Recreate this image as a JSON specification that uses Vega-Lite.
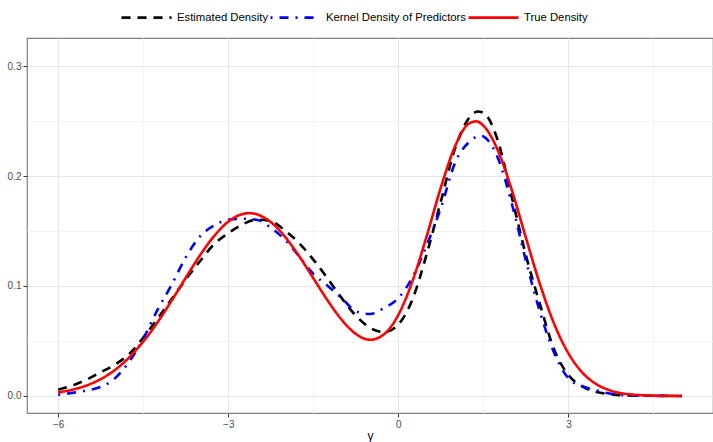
{
  "$schema": "https://vega.github.io/schema/vega-lite/v6.json",
  "width": 686,
  "height": 375,
  "autosize": {"type": "none"},
  "padding": {"left": 27, "top": 38, "right": 0, "bottom": 29},
  "background": "white",
  "config": {
    "font": "Liberation Sans",
    "view": {"stroke": "#808080", "strokeWidth": 1.2}
  },
  "datasets": {
    "curves": [
      {"x": -6, "y": 0.0057, "s": "Estimated Density"},
      {"x": -5.75, "y": 0.0095, "s": "Estimated Density"},
      {"x": -5.5, "y": 0.0148, "s": "Estimated Density"},
      {"x": -5.25, "y": 0.0215, "s": "Estimated Density"},
      {"x": -5, "y": 0.0285, "s": "Estimated Density"},
      {"x": -4.75, "y": 0.038, "s": "Estimated Density"},
      {"x": -4.5, "y": 0.053, "s": "Estimated Density"},
      {"x": -4.25, "y": 0.07, "s": "Estimated Density"},
      {"x": -4, "y": 0.088, "s": "Estimated Density"},
      {"x": -3.75, "y": 0.106, "s": "Estimated Density"},
      {"x": -3.5, "y": 0.1225, "s": "Estimated Density"},
      {"x": -3.25, "y": 0.138, "s": "Estimated Density"},
      {"x": -3, "y": 0.148, "s": "Estimated Density"},
      {"x": -2.75, "y": 0.156, "s": "Estimated Density"},
      {"x": -2.5, "y": 0.1603, "s": "Estimated Density"},
      {"x": -2.25, "y": 0.159, "s": "Estimated Density"},
      {"x": -2, "y": 0.1505, "s": "Estimated Density"},
      {"x": -1.75, "y": 0.139, "s": "Estimated Density"},
      {"x": -1.5, "y": 0.124, "s": "Estimated Density"},
      {"x": -1.25, "y": 0.107, "s": "Estimated Density"},
      {"x": -1, "y": 0.089, "s": "Estimated Density"},
      {"x": -0.75, "y": 0.073, "s": "Estimated Density"},
      {"x": -0.5, "y": 0.062, "s": "Estimated Density"},
      {"x": -0.25, "y": 0.058, "s": "Estimated Density"},
      {"x": 0, "y": 0.065, "s": "Estimated Density"},
      {"x": 0.25, "y": 0.088, "s": "Estimated Density"},
      {"x": 0.5, "y": 0.129, "s": "Estimated Density"},
      {"x": 0.75, "y": 0.177, "s": "Estimated Density"},
      {"x": 1, "y": 0.225, "s": "Estimated Density"},
      {"x": 1.25, "y": 0.253, "s": "Estimated Density"},
      {"x": 1.4, "y": 0.2586, "s": "Estimated Density"},
      {"x": 1.5, "y": 0.2575, "s": "Estimated Density"},
      {"x": 1.75, "y": 0.233, "s": "Estimated Density"},
      {"x": 2, "y": 0.181, "s": "Estimated Density"},
      {"x": 2.25, "y": 0.128, "s": "Estimated Density"},
      {"x": 2.5, "y": 0.083, "s": "Estimated Density"},
      {"x": 2.75, "y": 0.042, "s": "Estimated Density"},
      {"x": 3, "y": 0.019, "s": "Estimated Density"},
      {"x": 3.25, "y": 0.0085, "s": "Estimated Density"},
      {"x": 3.5, "y": 0.0035, "s": "Estimated Density"},
      {"x": 3.75, "y": 0.0015, "s": "Estimated Density"},
      {"x": 4, "y": 0.0004, "s": "Estimated Density"},
      {"x": 4.5, "y": 0.0001, "s": "Estimated Density"},
      {"x": 5, "y": 0, "s": "Estimated Density"},

      {"x": -6, "y": 0.0012, "s": "Kernel Density of Predictors"},
      {"x": -5.75, "y": 0.0028, "s": "Kernel Density of Predictors"},
      {"x": -5.5, "y": 0.005, "s": "Kernel Density of Predictors"},
      {"x": -5.25, "y": 0.0082, "s": "Kernel Density of Predictors"},
      {"x": -5, "y": 0.016, "s": "Kernel Density of Predictors"},
      {"x": -4.75, "y": 0.031, "s": "Kernel Density of Predictors"},
      {"x": -4.5, "y": 0.052, "s": "Kernel Density of Predictors"},
      {"x": -4.25, "y": 0.078, "s": "Kernel Density of Predictors"},
      {"x": -4, "y": 0.101, "s": "Kernel Density of Predictors"},
      {"x": -3.75, "y": 0.126, "s": "Kernel Density of Predictors"},
      {"x": -3.5, "y": 0.145, "s": "Kernel Density of Predictors"},
      {"x": -3.25, "y": 0.155, "s": "Kernel Density of Predictors"},
      {"x": -3, "y": 0.1603, "s": "Kernel Density of Predictors"},
      {"x": -2.75, "y": 0.1612, "s": "Kernel Density of Predictors"},
      {"x": -2.5, "y": 0.1603, "s": "Kernel Density of Predictors"},
      {"x": -2.25, "y": 0.153, "s": "Kernel Density of Predictors"},
      {"x": -2, "y": 0.142, "s": "Kernel Density of Predictors"},
      {"x": -1.75, "y": 0.127, "s": "Kernel Density of Predictors"},
      {"x": -1.5, "y": 0.111, "s": "Kernel Density of Predictors"},
      {"x": -1.25, "y": 0.1003, "s": "Kernel Density of Predictors"},
      {"x": -1, "y": 0.089, "s": "Kernel Density of Predictors"},
      {"x": -0.75, "y": 0.077, "s": "Kernel Density of Predictors"},
      {"x": -0.5, "y": 0.0745, "s": "Kernel Density of Predictors"},
      {"x": -0.25, "y": 0.08, "s": "Kernel Density of Predictors"},
      {"x": 0, "y": 0.089, "s": "Kernel Density of Predictors"},
      {"x": 0.25, "y": 0.108, "s": "Kernel Density of Predictors"},
      {"x": 0.5, "y": 0.137, "s": "Kernel Density of Predictors"},
      {"x": 0.75, "y": 0.171, "s": "Kernel Density of Predictors"},
      {"x": 1, "y": 0.212, "s": "Kernel Density of Predictors"},
      {"x": 1.25, "y": 0.231, "s": "Kernel Density of Predictors"},
      {"x": 1.45, "y": 0.2365, "s": "Kernel Density of Predictors"},
      {"x": 1.75, "y": 0.217, "s": "Kernel Density of Predictors"},
      {"x": 2, "y": 0.175, "s": "Kernel Density of Predictors"},
      {"x": 2.25, "y": 0.123, "s": "Kernel Density of Predictors"},
      {"x": 2.5, "y": 0.076, "s": "Kernel Density of Predictors"},
      {"x": 2.75, "y": 0.039, "s": "Kernel Density of Predictors"},
      {"x": 3, "y": 0.016, "s": "Kernel Density of Predictors"},
      {"x": 3.25, "y": 0.0088, "s": "Kernel Density of Predictors"},
      {"x": 3.5, "y": 0.005, "s": "Kernel Density of Predictors"},
      {"x": 3.75, "y": 0.002, "s": "Kernel Density of Predictors"},
      {"x": 4, "y": 0.0007, "s": "Kernel Density of Predictors"},
      {"x": 4.5, "y": 0.0001, "s": "Kernel Density of Predictors"},
      {"x": 5, "y": 0, "s": "Kernel Density of Predictors"},

      {"x": -6, "y": 0.0032, "s": "True Density"},
      {"x": -5.75, "y": 0.0057, "s": "True Density"},
      {"x": -5.5, "y": 0.0095, "s": "True Density"},
      {"x": -5.25, "y": 0.0153, "s": "True Density"},
      {"x": -5, "y": 0.0236, "s": "True Density"},
      {"x": -4.75, "y": 0.0349, "s": "True Density"},
      {"x": -4.5, "y": 0.0494, "s": "True Density"},
      {"x": -4.25, "y": 0.0668, "s": "True Density"},
      {"x": -4, "y": 0.0866, "s": "True Density"},
      {"x": -3.75, "y": 0.1075, "s": "True Density"},
      {"x": -3.5, "y": 0.1278, "s": "True Density"},
      {"x": -3.25, "y": 0.1454, "s": "True Density"},
      {"x": -3, "y": 0.1585, "s": "True Density"},
      {"x": -2.75, "y": 0.1654, "s": "True Density"},
      {"x": -2.625, "y": 0.1662, "s": "True Density"},
      {"x": -2.5, "y": 0.1652, "s": "True Density"},
      {"x": -2.25, "y": 0.1581, "s": "True Density"},
      {"x": -2, "y": 0.1448, "s": "True Density"},
      {"x": -1.75, "y": 0.1271, "s": "True Density"},
      {"x": -1.5, "y": 0.1071, "s": "True Density"},
      {"x": -1.25, "y": 0.087, "s": "True Density"},
      {"x": -1, "y": 0.0693, "s": "True Density"},
      {"x": -0.75, "y": 0.0564, "s": "True Density"},
      {"x": -0.5, "y": 0.0511, "s": "True Density"},
      {"x": -0.25, "y": 0.0562, "s": "True Density"},
      {"x": 0, "y": 0.0738, "s": "True Density"},
      {"x": 0.25, "y": 0.1045, "s": "True Density"},
      {"x": 0.5, "y": 0.1454, "s": "True Density"},
      {"x": 0.75, "y": 0.1896, "s": "True Density"},
      {"x": 1, "y": 0.227, "s": "True Density"},
      {"x": 1.25, "y": 0.2479, "s": "True Density"},
      {"x": 1.375, "y": 0.2497, "s": "True Density"},
      {"x": 1.5, "y": 0.2458, "s": "True Density"},
      {"x": 1.75, "y": 0.2239, "s": "True Density"},
      {"x": 2, "y": 0.1874, "s": "True Density"},
      {"x": 2.25, "y": 0.1438, "s": "True Density"},
      {"x": 2.5, "y": 0.1012, "s": "True Density"},
      {"x": 2.75, "y": 0.0653, "s": "True Density"},
      {"x": 3, "y": 0.0387, "s": "True Density"},
      {"x": 3.25, "y": 0.021, "s": "True Density"},
      {"x": 3.5, "y": 0.0105, "s": "True Density"},
      {"x": 3.75, "y": 0.0048, "s": "True Density"},
      {"x": 4, "y": 0.002, "s": "True Density"},
      {"x": 4.25, "y": 0.0008, "s": "True Density"},
      {"x": 4.5, "y": 0.0003, "s": "True Density"},
      {"x": 4.75, "y": 0.0001, "s": "True Density"},
      {"x": 5, "y": 0, "s": "True Density"}
    ]
  },
  "data": {"name": "curves"},
  "mark": {"type": "line", "strokeWidth": 2.6, "interpolate": "monotone", "strokeCap": "butt", "clip": true},
  "encoding": {
    "x": {
      "field": "x",
      "type": "quantitative",
      "scale": {"domain": [-6.55, 5.55], "nice": false, "zero": false},
      "axis": {
        "title": "γ",
        "titleFontSize": 12,
        "titleFontWeight": "normal",
        "titleColor": "#000000",
        "titlePadding": 1,
        "values": [-6, -4.5, -3, -1.5, 0, 1.5, 3, 4.5],
        "labelExpr": "datum.value % 3 === 0 ? format(datum.value, 'd') : ''",
        "labelFontSize": 10,
        "labelColor": "#4d4d4d",
        "labelPadding": 2,
        "tickSize": 4,
        "tickColor": "#333333",
        "tickOpacity": {"condition": {"test": "datum.value % 3 === 0", "value": 1}, "value": 0},
        "domain": false,
        "grid": true,
        "gridColor": {"condition": {"test": "datum.value % 3 === 0", "value": "#e6e6e6"}, "value": "#f4f4f4"},
        "gridWidth": 1
      }
    },
    "y": {
      "field": "y",
      "type": "quantitative",
      "scale": {"domain": [-0.0155, 0.3255], "nice": false, "zero": false},
      "axis": {
        "title": null,
        "values": [0, 0.05, 0.1, 0.15, 0.2, 0.25, 0.3],
        "labelExpr": "round(datum.value * 100) % 10 === 0 ? format(datum.value, '.1f') : ''",
        "labelFontSize": 10,
        "labelColor": "#4d4d4d",
        "labelPadding": 2,
        "tickSize": 4,
        "tickColor": "#333333",
        "tickOpacity": {"condition": {"test": "round(datum.value * 100) % 10 === 0", "value": 1}, "value": 0},
        "domain": false,
        "grid": true,
        "gridColor": {"condition": {"test": "round(datum.value * 100) % 10 === 0", "value": "#e6e6e6"}, "value": "#f4f4f4"},
        "gridWidth": 1
      }
    },
    "color": {
      "field": "s",
      "type": "nominal",
      "title": null,
      "scale": {
        "domain": ["Estimated Density", "Kernel Density of Predictors", "True Density"],
        "range": ["#000000", "#0000ff", "#ff0000"]
      },
      "legend": {
        "orient": "none",
        "legendX": 93,
        "legendY": -47,
        "direction": "horizontal",
        "symbolType": "stroke",
        "symbolSize": 2500,
        "symbolStrokeWidth": 2.6,
        "labelFontSize": 11.3,
        "labelColor": "#000000",
        "labelOffset": 4,
        "columnPadding": -6,
        "padding": 0
      }
    },
    "strokeDash": {
      "field": "s",
      "type": "nominal",
      "title": null,
      "scale": {
        "domain": ["Estimated Density", "Kernel Density of Predictors", "True Density"],
        "range": [[9, 7], [2, 7, 9, 7], [1, 0]]
      }
    }
  }
}
